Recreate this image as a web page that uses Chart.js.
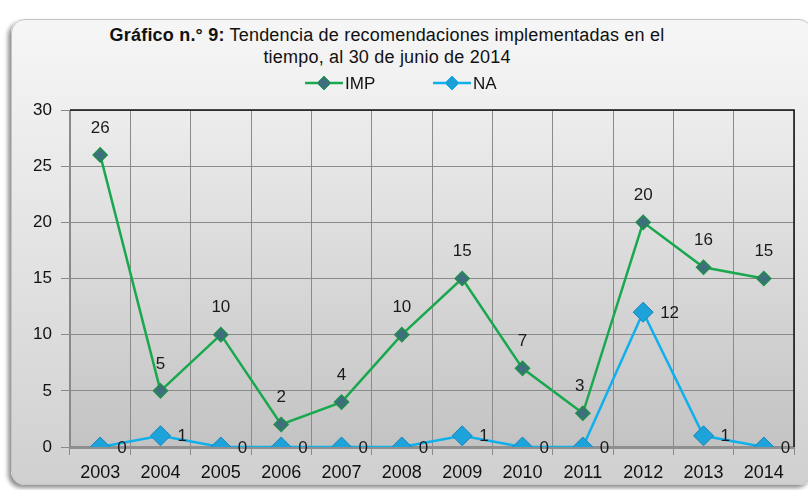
<!DOCTYPE html>
<html>
<head>
<meta charset="utf-8">
<script src="https://cdn.jsdelivr.net/npm/chart.js@4/dist/chart.umd.min.js"></script>
<style>
  html,body{margin:0;padding:0;background:#fff;}
  #wrap{position:relative;width:808px;height:490px;overflow:hidden;}
  #frame{position:absolute;left:11px;top:19px;width:800px;height:464px;border-radius:14px;
    background:linear-gradient(#f6f6f6,#d0d0d0);border:1px solid #c4c4c4;
    box-shadow:-3px 3px 4px #8f8f8f;}
  #title{position:absolute;left:0;width:774px;top:24px;text-align:center;
    font-family:"Liberation Sans",Arial,sans-serif;font-size:18px;line-height:22px;color:#111;
    letter-spacing:0.2px;}
  #title b{font-weight:bold;}
  canvas{position:absolute;left:0;top:0;}
</style>
</head>
<body>
<div id="wrap">
  <div id="frame"></div>
  <div id="title"><b>Gráfico n.° 9:</b> Tendencia de recomendaciones implementadas en el<br>tiempo, al 30 de junio de 2014</div>
  <canvas id="c" width="808" height="490"></canvas>
</div>
<script>
// data
const years = ['2003','2004','2005','2006','2007','2008','2009','2010','2011','2012','2013','2014'];
const imp = [26,5,10,2,4,10,15,7,3,20,16,15];
const na  = [0,1,0,0,0,0,1,0,0,12,1,0];
const yTicks = [0,5,10,15,20,25,30];

const sans = '"Liberation Sans",Arial,sans-serif';

// plot background + top/right border
const plotBg = {
  id:'plotBg',
  beforeDraw(chart){
    const {ctx, chartArea:a} = chart;
    const g = ctx.createLinearGradient(0,a.top,0,a.bottom);
    g.addColorStop(0,'#ededed'); g.addColorStop(1,'#c3c3c3');
    ctx.save();
    ctx.fillStyle = g;
    ctx.fillRect(a.left,a.top,a.right-a.left,a.bottom-a.top);
    ctx.restore();
  },
  afterDatasetsDraw(chart){
    const {ctx, chartArea:a} = chart;
    ctx.save();
    ctx.strokeStyle = '#111'; ctx.lineWidth = 1.5;
    ctx.beginPath();
    ctx.moveTo(a.left,a.top); ctx.lineTo(a.right,a.top); ctx.lineTo(a.right,a.bottom);
    ctx.stroke();
    ctx.restore();
  }
};

// value labels: IMP above the point, NA to the right
const valueLabels = {
  id:'valueLabels',
  afterDatasetsDraw(chart){
    const ctx = chart.ctx;
    ctx.save();
    ctx.font = '17px ' + sans;
    ctx.fillStyle = '#1a1a1a';
    ctx.textBaseline = 'middle';
    chart.data.datasets.forEach((ds,i)=>{
      chart.getDatasetMeta(i).data.forEach((pt,j)=>{
        const v = ds.data[j];
        if(i===0){
          ctx.textAlign = 'center';
          let dx = 0;
          if(j===8) dx = -3;
          ctx.fillText(String(v), pt.x+dx, pt.y-27);
        } else {
          ctx.textAlign = 'left';
          ctx.fillText(String(v), pt.x+17, pt.y+1);
        }
      });
    });
    ctx.restore();
  }
};

// legend: line + diamond per series
const lineLegend = {
  id:'lineLegend',
  afterDraw(chart){
    const ctx = chart.ctx;
    const items = [
      {label:'IMP', color:'#1aa84f', fill:'#3d6f7c', x:305},
      {label:'NA',  color:'#10b0ec', fill:'#1d9fd6', x:433}
    ];
    const y = 83;
    ctx.save();
    items.forEach(it=>{
      ctx.strokeStyle = it.color; ctx.lineWidth = 2.5;
      ctx.beginPath(); ctx.moveTo(it.x,y); ctx.lineTo(it.x+38,y); ctx.stroke();
      const cx = it.x+19, r = 7;
      ctx.fillStyle = it.fill; ctx.strokeStyle = it.color; ctx.lineWidth = 1;
      ctx.beginPath();
      ctx.moveTo(cx-r,y); ctx.lineTo(cx,y-r); ctx.lineTo(cx+r,y); ctx.lineTo(cx,y+r); ctx.closePath();
      ctx.fill(); ctx.stroke();
      ctx.fillStyle = '#111';
      ctx.font = '17px ' + sans;
      ctx.textAlign = 'left'; ctx.textBaseline = 'middle';
      ctx.fillText(it.label, it.x+40, y+1);
    });
    ctx.restore();
  }
};

new Chart(document.getElementById('c'), {
  type:'line',
  data:{
    labels: years,
    datasets:[
      {label:'IMP', data:imp, borderColor:'#1aa84f', borderWidth:2.5,
       pointStyle:'rectRot', pointRadius:7, pointBackgroundColor:'#3d6f7c',
       pointBorderColor:'#1f8f4a', pointBorderWidth:1.5, tension:0},
      {label:'NA', data:na, borderColor:'#10b0ec', borderWidth:2.5,
       pointStyle:'rectRot', pointRadius:10, pointBackgroundColor:'#1ea2da',
       pointBorderColor:'#1785b8', pointBorderWidth:1, tension:0}
    ]
  },
  options:{
    responsive:false,
    animation:false,
    events:[],
    layout:{padding:{left:0,right:14,top:110,bottom:0}},
    plugins:{legend:{display:false}, title:{display:false}, tooltip:{enabled:false}},
    scales:{
      x:{
        offset:true,
        grid:{color:'#8a8a8a', lineWidth:1, offset:true, tickLength:8},
        border:{color:'#8f8f8f', width:3},
        ticks:{color:'#111', font:{family:sans, size:18}, padding:7, maxRotation:0},
        afterFit(s){ s.height = 43; }
      },
      y:{
        min:0, max:30,
        afterBuildTicks(s){ s.ticks = yTicks.map(v=>({value:v})); },
        grid:{color:'#8a8a8a', lineWidth:1, tickLength:9},
        border:{color:'#8a8a8a', width:1},
        ticks:{color:'#111', font:{family:sans, size:17}, padding:9},
        afterFit(s){ s.width = 70; }
      }
    }
  },
  plugins:[plotBg, valueLabels, lineLegend]
});
</script>
</body>
</html>
